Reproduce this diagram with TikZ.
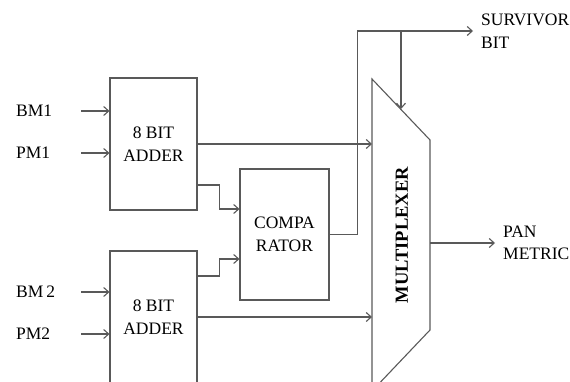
\documentclass[tikz,border=0pt]{standalone}
\usepackage{fontspec}
\setmainfont{Liberation Serif}
\usetikzlibrary{arrows.meta,positioning}

\begin{document}
\begin{tikzpicture}[
    x=1pt, y=-1pt,
    >={Straight Barb[length=5pt,width=9pt]},
    every node/.style={font=\fontsize{17.5}{22.5}\selectfont, text=black},
    block/.style={
        rectangle, draw=black!65, line width=1.1pt,
        minimum width=87pt, minimum height=132pt, inner sep=0pt,
        align=center
    },
    lbl/.style={inner sep=0pt, align=left},
    arr/.style={->, line width=1.1pt, black!65}
]

    \useasboundingbox (0,0) rectangle (570,382);
    \clip (0,0) rectangle (570,382);

    % Adders and comparator
    \node[block] (add1) at (153.5,144) {8 BIT\\ADDER};
    \node[block] (add2) at (153.5,317) {8 BIT\\ADDER};
    \node[block, minimum width=89pt, minimum height=131pt] (cmp) at (284.5,234.5) {COMPA\\RATOR};

    % Multiplexer
    \coordinate (m1) at (372,79);
    \coordinate (m2) at (430,140);
    \coordinate (m3) at (430,330);
    \coordinate (m4) at (372,391);
    \draw[black!65, line width=1.1pt] (m1) -- (m2) -- (m3) -- (m4) -- cycle;
    \node[rotate=90, font=\fontsize{18.5}{22.5}\selectfont\bfseries] (mux) at (402,235) {MULTIPLEXER};
    \coordinate (in1) at (372,144);
    \coordinate (in2) at (372,317);
    \coordinate (sel) at (401,109);
    \coordinate (out) at (430,243);

    % Labels
    \node[lbl, anchor=west] (bm1) at (16,111) {BM1};
    \node[lbl, anchor=west] (pm1) at (16,153) {PM1};
    \node[lbl, anchor=west] (bm2) at (16,292) {BM\,2};
    \node[lbl, anchor=west] (pm2) at (16,334) {PM2};
    \node[lbl, anchor=west] (surv) at (481,31) {SURVIVOR\\BIT};
    \node[lbl, anchor=west] (pan) at (503,243) {PAN\\METRIC};

    % Inputs
    \draw[arr] (81,111) -- (add1.west |- bm1);
    \draw[arr] (81,153) -- (add1.west |- pm1);
    \draw[arr] (81,292) -- (add2.west |- bm2);
    \draw[arr] (81,334) -- (add2.west |- pm2);

    % Edges
    \draw[arr] (add1.east) -- (in1);
    \draw[arr] ([yshift=-41pt]add1.east) -- ++(22,0) |- ([yshift=25.5pt]cmp.west);
    \draw[arr] ([yshift=41pt]add2.east) -- ++(22,0) |- ([yshift=-24.5pt]cmp.west);
    \draw[arr] (add2.east) -- (in2);
    \draw[arr] (cmp.east) -- ++(28,0) |- ([xshift=-8pt]surv.west);
    \draw[arr] (sel |- surv.west) -- (sel);
    \draw[arr] (out) -- ([xshift=-8pt]pan.west);

\end{tikzpicture}
\end{document}
